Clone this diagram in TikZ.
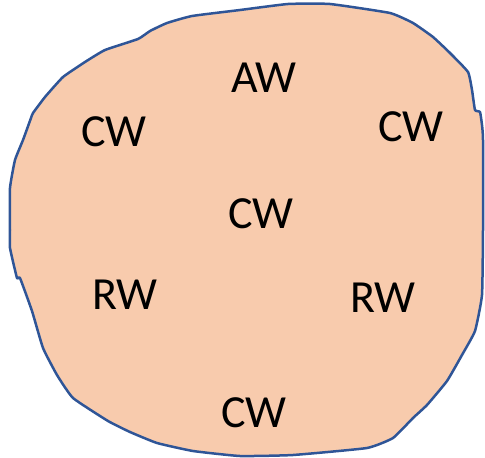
\documentclass[tikz,border=0pt]{standalone}
\usepackage{fontspec}
\setmainfont{Carlito}
\definecolor{blobfill}{HTML}{F8CBAD}
\definecolor{blobline}{HTML}{2F5597}
\begin{document}
\begin{tikzpicture}[x=1pt,y=-1pt,
  lbl/.style={font=\fontsize{46}{50}\selectfont, inner sep=0pt, anchor=center}]
\useasboundingbox (0,0) rectangle (485,458);
\draw[blobline, fill=blobfill, line width=2.5pt, line join=round]
  plot[smooth cycle, tension=0.25] coordinates {
  (10,230) (10,188) (15,160) (23,140) (31,118) (33,113) (45,97) (63,77) (85,62) (105,50) (138,39)
  (150,31) (167,23) (192,16) (240,10) (288,4) (330,4) (390,13) (413,23) (433,37) (450,53) (468,72)
  (472,90) (475,110) (480,112) (482,125) (483,140) (483,230) (482,295) (475,331) (462,355) (447,381)
  (427,405) (413,418) (393,438) (367,448) (293,455) (240,456) (193,451) (157,443) (130,432) (108,421)
  (73,398) (57,375) (43,348) (32,311) (20,278) (17,278) (10,248)};
\node[lbl] (aw) at (264,78) {AW};
\node[lbl] (cwl) at (114,132) {CW};
\node[lbl] (cwr) at (411,127) {CW};
\node[lbl] (cwc) at (261,214) {CW};
\node[lbl] (rwl) at (125,295) {RW};
\node[lbl] (rwr) at (383,298) {RW};
\node[lbl] (cwb) at (254,413) {CW};
\end{tikzpicture}
\end{document}
